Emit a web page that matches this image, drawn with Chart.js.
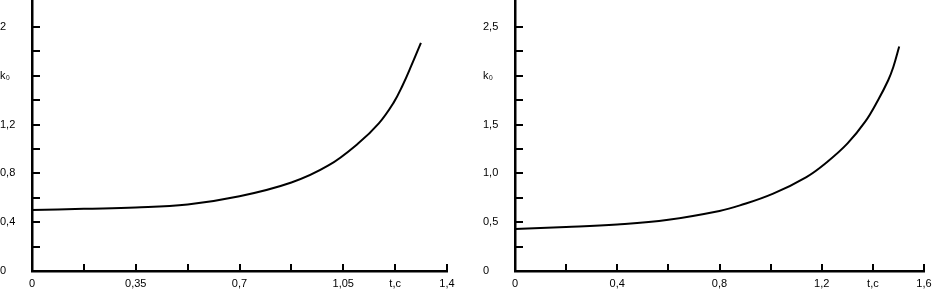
<!DOCTYPE html>
<html>
<head>
<meta charset="utf-8">
<script src="https://cdn.jsdelivr.net/npm/chart.js@4.4.1/dist/chart.umd.min.js"></script>
<style>
    html, body { margin: 0; padding: 0; background: #fff; }
    body { width: 932px; height: 292px; position: relative; overflow: hidden; }
    canvas { position: absolute; top: 0; }
    #leftChart { left: 0; }
    #rightChart { left: 483px; }
</style>
</head>
<body>
<canvas id="leftChart" width="466" height="292"></canvas>
<canvas id="rightChart" width="449" height="292"></canvas>
<script>
// Left graph: k0 against t, s
const leftTime = [0, 0.175, 0.35, 0.525, 0.7, 0.875, 1.0, 1.1, 1.17, 1.22, 1.25, 1.28, 1.312];
const leftK = [0.50, 0.51, 0.52, 0.545, 0.612, 0.725, 0.865, 1.045, 1.21, 1.38, 1.52, 1.685, 1.87];
const leftXTicks = [0, 0.175, 0.35, 0.525, 0.7, 0.875, 1.05, 1.225, 1.4];
const leftXLabels = ['0', '', '0,35', '', '0,7', '', '1,05', 't,c', '1,4'];
const leftYTicks = [0, 0.2, 0.4, 0.6, 0.8, 1.0, 1.2, 1.4, 1.6, 1.8, 2.0];
const leftYLabels = ['0', '', '0,4', '', '0,8', '', '1,2', '', 'k₀', '', '2'];

// Right graph
const rightTime = [0, 0.2, 0.4, 0.6, 0.8, 0.88, 1.01, 1.14, 1.22, 1.3, 1.37, 1.42, 1.46, 1.48, 1.503];
const rightK = [0.43, 0.45, 0.477, 0.525, 0.615, 0.672, 0.793, 0.963, 1.115, 1.305, 1.53, 1.75, 1.955, 2.09, 2.30];
const rightXTicks = [0, 0.2, 0.4, 0.6, 0.8, 1.0, 1.2, 1.4, 1.6];
const rightXLabels = ['0', '', '0,4', '', '0,8', '', '1,2', 't,c', '1,6'];
const rightYTicks = [0, 0.25, 0.5, 0.75, 1.0, 1.25, 1.5, 1.75, 2.0, 2.25, 2.5];
const rightYLabels = ['0', '', '0,5', '', '1,0', '', '1,5', '', 'k₀', '', '2,5'];

const FONT = { family: '"Liberation Sans", Arial, sans-serif', size: 11 };

// tick marks pointing into the plot, like the original drawing
const innerTicks = {
    id: 'innerTicks',
    afterDraw(chart) {
        const { ctx, chartArea, scales: { x, y } } = chart;
        ctx.save();
        ctx.strokeStyle = '#000';
        ctx.lineWidth = 2;
        x.ticks.forEach(t => {
            const px = Math.round(x.getPixelForValue(t.value));
            ctx.beginPath();
            ctx.moveTo(px, chartArea.bottom);
            ctx.lineTo(px, chartArea.bottom - 7);
            ctx.stroke();
        });
        y.ticks.forEach(t => {
            const py = Math.round(y.getPixelForValue(t.value));
            ctx.beginPath();
            ctx.moveTo(chartArea.left, py);
            ctx.lineTo(chartArea.left + 8, py);
            ctx.stroke();
        });
        ctx.restore();
    }
};

function makeChart(id, times, values, xTicks, xLabels, yTicks, yLabels, xMax, yMax, padRight) {
    const points = times.map((t, i) => ({ x: t, y: values[i] }));
    return new Chart(document.getElementById(id), {
        type: 'line',
        data: {
            datasets: [{
                data: points,
                borderColor: '#000',
                borderWidth: 2,
                pointRadius: 0,
                fill: false,
                tension: 0.4,
            }]
        },
        options: {
            responsive: false,
            animation: false,
            layout: { padding: { left: 0, right: padRight, top: 0, bottom: 0 } },
            plugins: {
                legend: { display: false },
                tooltip: { enabled: false },
            },
            scales: {
                x: {
                    type: 'linear',
                    min: 0,
                    max: xMax,
                    afterBuildTicks: scale => { scale.ticks = xTicks.map(v => ({ value: v })); },
                    afterFit: scale => {
                        scale.height = 21;
                        scale.paddingLeft = 0;
                        scale.paddingRight = 0;
                    },
                    grid: { display: false, drawTicks: false },
                    border: { display: true, color: '#000', width: 2.5 },
                    ticks: {
                        autoSkip: false,
                        maxRotation: 0,
                        padding: 6,
                        color: '#000',
                        font: FONT,
                        callback: (value, index) => xLabels[index],
                    }
                },
                y: {
                    type: 'linear',
                    min: 0,
                    max: yMax,
                    afterBuildTicks: scale => { scale.ticks = yTicks.map(v => ({ value: v })); },
                    afterFit: scale => {
                        scale.width = 32;
                        scale.paddingTop = 0;
                        scale.paddingBottom = 0;
                    },
                    grid: { display: false, drawTicks: false },
                    border: { display: true, color: '#000', width: 2.5 },
                    ticks: {
                        autoSkip: false,
                        crossAlign: 'far',
                        color: '#000',
                        font: FONT,
                        callback: (value, index) => yLabels[index],
                    }
                }
            }
        },
        plugins: [innerTicks]
    });
}

makeChart('leftChart', leftTime, leftK, leftXTicks, leftXLabels, leftYTicks, leftYLabels, 1.4, 2.221, 19);
makeChart('rightChart', rightTime, rightK, rightXTicks, rightXLabels, rightYTicks, rightYLabels, 1.6, 2.777, 8);
</script>
</body>
</html>
